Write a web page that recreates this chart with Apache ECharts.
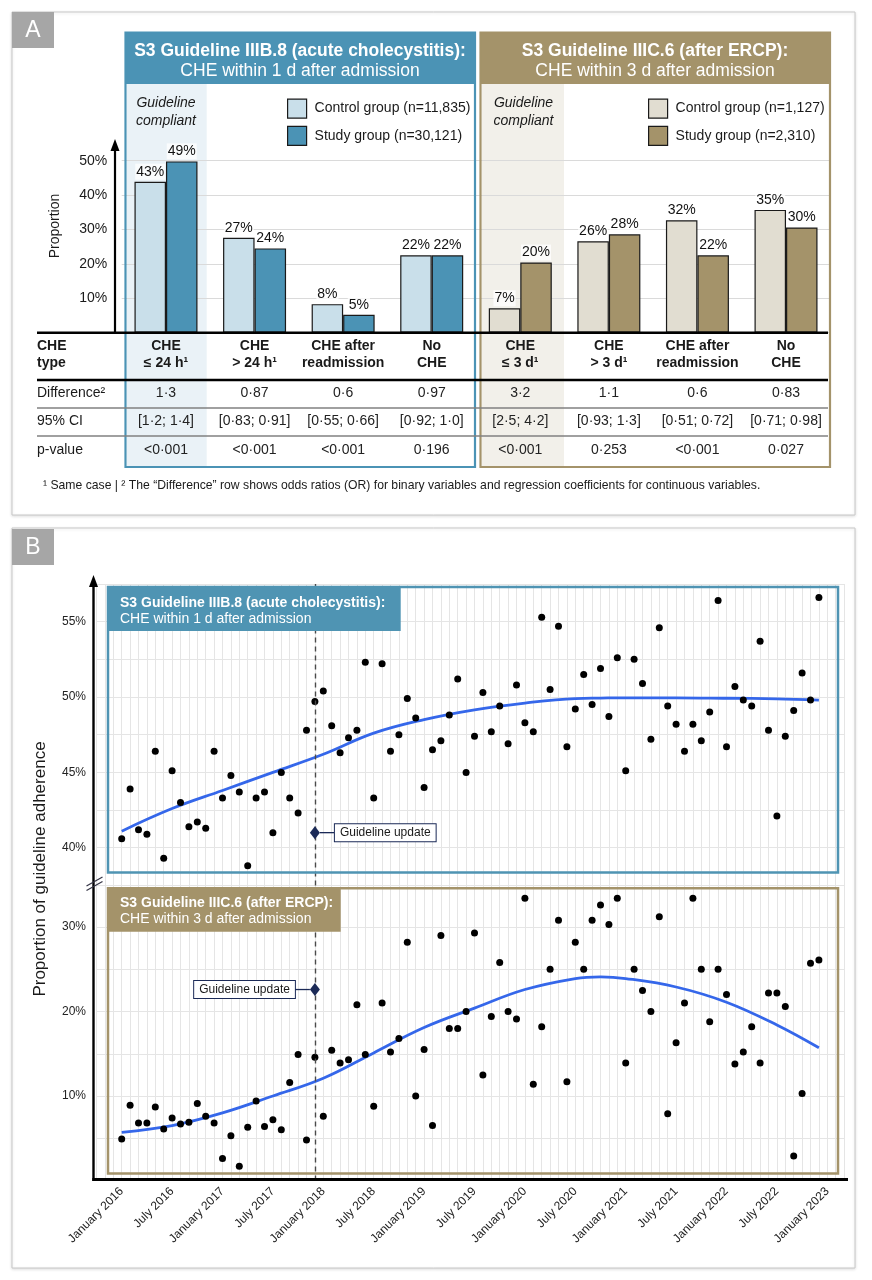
<!DOCTYPE html>
<html><head><meta charset="utf-8">
<script src="https://cdn.jsdelivr.net/npm/echarts@6/dist/echarts.min.js"></script>
<style>html,body{margin:0;padding:0;background:#fff}#c{width:872px;height:1280px}</style>
</head><body><div id="c"></div><script>
// ---------- Panel A data ----------
const categories = ['CHE\n≤ 24 h¹', 'CHE\n> 24 h¹', 'CHE after\nreadmission', 'No\nCHE', 'CHE\n≤ 3 d¹', 'CHE\n> 3 d¹', 'CHE after\nreadmission', 'No\nCHE'];
const blueControl = [43.9, 27.6, 8.3, 22.5];
const blueStudy = [49.8, 24.5, 5.2, 22.5];
const goldControl = [7.1, 26.6, 32.7, 35.7];
const goldStudy = [20.4, 28.6, 22.5, 30.6];
const legendBlue = ['Control group (n=11,835)', 'Study group (n=30,121)'];
const legendGold = ['Control group (n=1,127)', 'Study group (n=2,310)'];
const difference = ['1·3', '0·87', '0·6', '0·97', '3·2', '1·1', '0·6', '0·83'];
const ci95 = ['[1·2; 1·4]', '[0·83; 0·91]', '[0·55; 0·66]', '[0·92; 1·0]', '[2·5; 4·2]', '[0·93; 1·3]', '[0·51; 0·72]', '[0·71; 0·98]'];
const pValues = ['<0·001', '<0·001', '<0·001', '0·196', '<0·001', '0·253', '<0·001', '0·027'];

// ---------- Panel B data (month index 0 = January 2016) ----------
const halfYearLabels = ['January 2016','July 2016','January 2017','July 2017','January 2018','July 2018','January 2019','July 2019','January 2020','July 2020','January 2021','July 2021','January 2022','July 2022','January 2023'];
const topValues = [40.6,43.9,41.2,40.9,46.4,39.3,45.1,43.0,41.4,41.7,
  41.3,46.4,43.3,44.8,43.7,38.8,43.3,43.7,41.0,45.0,
  43.3,42.3,47.8,49.7,50.4,48.1,46.3,47.3,47.8,52.3,
  43.3,52.2,46.4,47.5,49.9,48.6,44.0,46.5,47.1,48.8,
  51.2,45.0,47.4,50.3,47.7,49.4,46.9,50.8,48.3,47.7,
  55.3,50.5,54.7,46.7,49.2,51.5,49.5,51.9,48.7,52.6,
  45.1,52.5,50.9,47.2,54.6,49.4,48.2,46.4,48.2,47.1,
  49.0,56.4,46.7,50.7,49.8,49.4,53.7,47.8,42.1,47.4,
  49.1,51.6,49.8,56.6];
const bottomValues = [4.9,8.9,6.8,6.8,8.7,6.1,7.4,6.7,6.9,9.1,
  7.6,6.8,2.6,5.3,1.7,6.3,9.4,6.4,7.2,6.0,
  11.6,14.9,4.8,14.6,7.6,15.4,13.9,14.3,20.8,14.9,
  8.8,21.0,15.2,16.8,28.2,10.0,15.5,6.5,29.0,18.0,
  18.0,20.0,29.3,12.5,19.4,25.8,20.0,19.1,33.4,11.4,
  18.2,25.0,30.8,11.7,28.2,25.0,30.8,32.6,30.3,33.4,
  13.9,25.0,22.5,20.0,31.2,7.9,16.3,21.0,33.4,25.0,
  18.8,25.0,22.0,13.8,15.2,18.2,13.9,22.2,22.2,20.6,
  2.9,10.3,25.7,26.1];
const trendIndex = [0,6,12,18,24,30,36,42,48,54,57,60,66,72,78,83];
const topTrend = [41.1,42.6,43.8,45.0,46.2,47.6,48.5,49.15,49.6,49.9,49.93,49.95,49.95,49.92,49.88,49.8];
const bottomTrend = [5.7,6.5,8.0,10.0,12.1,15.1,18.1,20.4,22.6,23.9,24.1,23.9,22.9,21.1,18.4,15.7];
const guidelineIndex = 23;
const topUpdateLevel = 41.0;
const bottomUpdateLevel = 22.6;

// ---------- styling helpers ----------
const FONT = "'Liberation Sans', Arial, Helvetica, sans-serif";
const BLUE = '#4b93b5', BLUE_L = '#c9dfea', GOLD = '#a4936a', GOLD_L = '#e1ddd1';
const INK = '#1a1a1a';
function txt(text, x, y, o) {
  o = o || {};
  return {type:'text', x:x, y:y, z:(o.z==null?20:o.z), rotation:o.rotation||0, silent:true,
    style:{text:text, fill:o.fill||INK, fontSize:o.size||14, fontWeight:o.weight||'normal', fontStyle:o.style||'normal',
      fontFamily:FONT, align:o.align||'left', verticalAlign:o.va||'middle', lineHeight:o.lh||undefined}};
}
function rect(x, y, w, h, fill, stroke, lw, z, extra) {
  const s = {fill:fill||'none', stroke:stroke||'none', lineWidth:lw||0};
  if (extra) Object.assign(s, extra);
  return {type:'rect', silent:true, z:z, shape:{x:x, y:y, width:w, height:h}, style:s};
}
function ln(x1, y1, x2, y2, stroke, lw, z) {
  return {type:'line', silent:true, z:z, shape:{x1:x1, y1:y1, x2:x2, y2:y2}, style:{stroke:stroke, lineWidth:lw}};
}
function tri(p, fill, z) { return {type:'polygon', silent:true, z:z, shape:{points:p}, style:{fill:fill}}; }

const graphics = [
  // frames
  rect(12, 12, 843, 503, '#fff', '#c8c8c8', 1, -20, {shadowBlur:3, shadowColor:'rgba(0,0,0,0.12)', shadowOffsetY:1}),
  rect(12, 528, 843, 740, '#fff', '#c8c8c8', 1, -20, {shadowBlur:3, shadowColor:'rgba(0,0,0,0.12)', shadowOffsetY:1}),
  rect(12, 12, 42, 36, '#a6a6a6', null, 0, 30), txt('A', 33, 30.5, {fill:'#fff', size:23, align:'center', z:31}),
  rect(12, 529, 42, 36, '#a6a6a6', null, 0, 30), txt('B', 33, 547.5, {fill:'#fff', size:23, align:'center', z:31}),
  // panel A shaded "guideline compliant" columns
  rect(127, 84, 79.7, 383, '#eaf2f7', null, 0, -5),
  rect(481.7, 84, 82.3, 383, '#f2f0ea', null, 0, -5),
  // panel A boxes and headers
  rect(125.5, 32.7, 349.5, 51.3, BLUE, null, 0, 10),
  rect(125.5, 32.7, 349.5, 434.3, null, BLUE, 2.2, 11),
  rect(480.5, 32.7, 349.5, 51.3, GOLD, null, 0, 10),
  rect(480.5, 32.7, 349.5, 434.3, null, GOLD, 2.2, 11),
  txt('S3 Guideline IIIB.8 (acute cholecystitis):', 300, 51.5, {fill:'#fff', size:17.5, weight:'bold', align:'center'}),
  txt('CHE within 1 d after admission', 300, 71.5, {fill:'#fff', size:17.5, align:'center'}),
  txt('S3 Guideline IIIC.6 (after ERCP):', 655, 51.5, {fill:'#fff', size:17.5, weight:'bold', align:'center'}),
  txt('CHE within 3 d after admission', 655, 71.5, {fill:'#fff', size:17.5, align:'center'}),
  txt('Guideline\ncompliant', 166, 112, {size:14, style:'italic', align:'center', lh:18}),
  txt('Guideline\ncompliant', 523.5, 112, {size:14, style:'italic', align:'center', lh:18}),
  // panel A axes / table lines
  ln(37, 332.7, 828, 332.7, '#000', 2.6, 12),
  ln(115, 333, 115, 148, '#000', 2.2, 12),
  tri([[115, 139], [110.5, 151], [119.5, 151]], '#000', 12),
  ln(37, 380, 828, 380, '#000', 2.6, 12),
  ln(37, 408, 828, 408, '#808080', 1.3, 12),
  ln(37, 436, 828, 436, '#808080', 1.3, 12),
  txt('Proportion', 55, 226, {rotation:Math.PI/2, align:'center', size:14}),
  txt('CHE\ntype', 37, 354.5, {weight:'bold', lh:17}),
  txt('Difference²', 37, 393),
  txt('95% CI', 37, 421.5),
  txt('p-value', 37, 450.5),
  txt('¹ Same case | ² The “Difference” row shows odds ratios (OR) for binary variables and regression coefficients for continuous variables.', 43, 486, {size:12.2}),
  // panel B boxes and headers
  rect(108, 587, 292.7, 44, '#4f94b3', null, 0, 10),
  rect(108, 587, 730, 285.5, null, '#4f94b3', 2.5, 11),
  txt('S3 Guideline IIIB.8 (acute cholecystitis):', 120, 603.5, {fill:'#fff', size:14, weight:'bold'}),
  txt('CHE within 1 d after admission', 120, 619.5, {fill:'#fff', size:14}),
  rect(108, 888.3, 232.7, 43.4, GOLD, null, 0, 10),
  rect(108, 888.3, 730, 285.2, null, GOLD, 2.5, 11),
  txt('S3 Guideline IIIC.6 (after ERCP):', 120, 903, {fill:'#fff', size:14, weight:'bold'}),
  txt('CHE within 3 d after admission', 120, 919, {fill:'#fff', size:14}),
  // panel B axes
  ln(93.5, 1181, 93.5, 585, '#000', 2.4, 12),
  tri([[93.5, 575], [89, 587], [98, 587]], '#000', 12),
  ln(92.3, 1179.5, 848, 1179.5, '#000', 3, 12),
  ln(86.5, 886, 102.5, 877, '#334', 1.2, 13),
  ln(86.5, 890.5, 102.5, 881.5, '#334', 1.2, 13),
  txt('Proportion of guideline adherence', 40, 869, {rotation:Math.PI/2, align:'center', size:17})
];

const barLabel = {show:true, position:'top', distance:2, fontSize:14, color:'#111', fontFamily:FONT,
  backgroundColor:'rgba(255,255,255,0.75)', padding:[1,1],
  formatter: p => Math.floor(p.value) + '%'};
const dash4 = ['-','-','-','-'];
function barSeries(name, stack, data, color) {
  return {type:'bar', name:name, xAxisIndex:0, yAxisIndex:0, stack:stack, data:data, barWidth:31.5, barGap:'0%',
    itemStyle:{color:color, borderColor:INK, borderWidth:1.2}, label:barLabel, z:2};
}
function updateSeries(xi, yi, level, side) {
  const rich = {
    ln:{width:15, height:1.3, backgroundColor:'#1b2a57', verticalAlign:'middle'},
    bx:{backgroundColor:'#fff', borderColor:'#1b2a57', borderWidth:1, padding:[3,5,2,5], fontSize:12, color:INK, fontFamily:FONT, verticalAlign:'middle'}
  };
  return {type:'scatter', xAxisIndex:xi, yAxisIndex:yi, data:[[guidelineIndex, level]], symbol:'diamond', symbolSize:[10,13],
    itemStyle:{color:'#1b2a57', opacity:1}, z:6, silent:true,
    label:{show:true, position:side, distance:0, rich:rich,
      formatter: side === 'right' ? '{ln|}{bx|Guideline update}' : '{bx|Guideline update}{ln|}'}};
}
const markLineOpt = {silent:true, symbol:['none','none'], label:{show:false},
  lineStyle:{color:'#4a4a4a', type:[5,4], width:1.4}, data:[{xAxis:guidelineIndex}]};

const monthAxis = (grid, showLabels) => ({
  type:'value', gridIndex:grid, min:-3, max:86, interval:1,
  axisLine:{show:false}, axisTick:{show:false},
  splitLine:{show:true, lineStyle:{color:'#e5e5e5', width:1}},
  axisLabel:{show:showLabels, rotate:45, fontSize:12, color:'#222', fontFamily:FONT, margin:9,
    formatter: v => (v >= 0 && v % 6 === 0) ? (halfYearLabels[v / 6] || '') : ''}
});

const option = {
  animation:false,
  backgroundColor:'#fff',
  textStyle:{fontFamily:FONT},
  legend:[
    {data:legendBlue, orient:'vertical', left:282, top:93.5, itemWidth:19, itemHeight:19, itemGap:7, icon:'rect', selectedMode:false,
     itemStyle:{borderColor:INK, borderWidth:1.2}, textStyle:{fontSize:14, color:INK, padding:[0,0,0,3]}},
    {data:legendGold, orient:'vertical', left:643, top:93.5, itemWidth:19, itemHeight:19, itemGap:7, icon:'rect', selectedMode:false,
     itemStyle:{borderColor:INK, borderWidth:1.2}, textStyle:{fontSize:14, color:INK, padding:[0,0,0,3]}}
  ],
  grid:[
    {left:121.7, right:41.7, top:160.7, bottom:947.3},
    {left:96.5, right:27.9, top:584, bottom:394.6},
    {left:96.5, right:27.9, top:884.75, bottom:99.5}
  ],
  xAxis:[
    {type:'category', gridIndex:0, data:categories, axisLine:{show:false}, axisTick:{show:false},
     axisLabel:{interval:0, fontSize:14, fontWeight:'bold', color:INK, lineHeight:17, margin:4.8,
       formatter:(v, i) => categories[i]}},
    {type:'category', gridIndex:0, data:difference, position:'bottom', offset:51.8, axisLine:{show:false}, axisTick:{show:false},
     axisLabel:{interval:0, fontSize:14, color:'#222', lineHeight:17, margin:0}},
    {type:'category', gridIndex:0, data:ci95, position:'bottom', offset:80.3, axisLine:{show:false}, axisTick:{show:false},
     axisLabel:{interval:0, fontSize:14, color:'#222', lineHeight:17, margin:0}},
    {type:'category', gridIndex:0, data:pValues, position:'bottom', offset:109.3, axisLine:{show:false}, axisTick:{show:false},
     axisLabel:{interval:0, fontSize:14, color:'#222', lineHeight:17, margin:0}},
    monthAxis(1, false),
    monthAxis(2, true)
  ],
  yAxis:[
    {type:'value', gridIndex:0, min:0, max:50, interval:10, axisLine:{show:false}, axisTick:{show:false},
     splitLine:{lineStyle:{color:'#dadada'}},
     axisLabel:{fontSize:14, color:INK, margin:14.5, formatter:v => v === 0 ? '' : v + '%'}},
    {type:'value', gridIndex:1, min:37.5, max:57.5, interval:2.5, axisLine:{show:false}, axisTick:{show:false},
     splitLine:{lineStyle:{color:'#e5e5e5'}},
     axisLabel:{fontSize:12, color:'#222', margin:10.5, formatter:v => v % 5 === 0 ? v + '%' : ''}},
    {type:'value', gridIndex:2, min:0, max:35, interval:5, axisLine:{show:false}, axisTick:{show:false},
     splitLine:{lineStyle:{color:'#e5e5e5'}},
     axisLabel:{fontSize:12, color:'#222', margin:10.5, formatter:v => (v > 0 && v % 10 === 0) ? v + '%' : ''}}
  ],
  series:[
    barSeries(legendBlue[0], 'control', blueControl.concat(dash4), BLUE_L),
    barSeries(legendBlue[1], 'study', blueStudy.concat(dash4), BLUE),
    barSeries(legendGold[0], 'control', dash4.concat(goldControl), GOLD_L),
    barSeries(legendGold[1], 'study', dash4.concat(goldStudy), GOLD),
    {type:'line', xAxisIndex:4, yAxisIndex:1, data:trendIndex.map((x, k) => [x, topTrend[k]]), smooth:0.4, showSymbol:false,
     lineStyle:{color:'#3567ea', width:2.8}, z:3, silent:true},
    {type:'scatter', xAxisIndex:4, yAxisIndex:1, data:topValues.map((v, i) => [i, v]), symbolSize:7,
     itemStyle:{color:'#000', opacity:1}, z:4, silent:true, markLine:markLineOpt},
    updateSeries(4, 1, topUpdateLevel, 'right'),
    {type:'line', xAxisIndex:5, yAxisIndex:2, data:trendIndex.map((x, k) => [x, bottomTrend[k]]), smooth:0.4, showSymbol:false,
     lineStyle:{color:'#3567ea', width:2.8}, z:3, silent:true},
    {type:'scatter', xAxisIndex:5, yAxisIndex:2, data:bottomValues.map((v, i) => [i, v]), symbolSize:7,
     itemStyle:{color:'#000', opacity:1}, z:4, silent:true, markLine:markLineOpt},
    updateSeries(5, 2, bottomUpdateLevel, 'left')
  ],
  graphic:graphics
};
const chart = echarts.init(document.getElementById('c'), null, {renderer:'canvas'});
chart.setOption(option);
</script></body></html>
